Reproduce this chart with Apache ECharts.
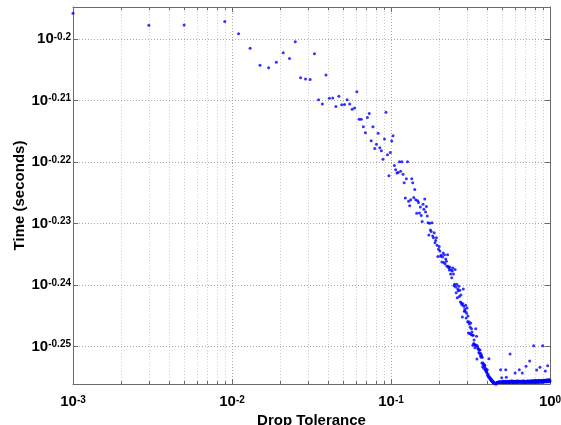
<!DOCTYPE html>
<html>
<head>
<meta charset="utf-8">
<script src="https://cdn.jsdelivr.net/npm/echarts@6/dist/echarts.min.js"></script>
<style>
  html, body { margin: 0; padding: 0; background: #ffffff; }
  #chart { width: 561px; height: 425px; }
</style>
</head>
<body>
<div id="chart"></div>
<script>
// Drop-tolerance sweep: tolerances start at 0.001 and advance in steps of 0.002
const tolStart = 0.001;
const tolStep = 0.002;

// Measured factorisation time (seconds) for each tolerance of the sweep (null = no sample)
const timeSeconds = [
  0.6371, 0.6342, 0.6343, null,   0.6351, 0.6322, 0.6288, 0.6248, 0.6242, 0.6255,
  0.6277, 0.6264, 0.6303, 0.6219, 0.6216, 0.6215, 0.6275, 0.6168, 0.6158, 0.6225,
  0.6171, 0.6172, 0.6152, 0.6176, 0.6156, 0.6157, 0.6168, 0.6158, 0.6146, 0.6149,
  0.6186, 0.6123, 0.6123, 0.6106, 0.6092, 0.6127, 0.6136, 0.6074, 0.6106, 0.6056,
  0.6066, 0.6091, 0.6058, 0.6051, 0.6032, 0.6078, 0.6139, 0.6042, 0.5995, 0.6047,
  0.6073, 0.6085, 0.6018, 0.6008, 0.6001, 0.6002, 0.6026, 0.6005, 0.6026, 0.5998,
  0.5979, 0.5945, 0.5988, 0.6026, 0.5938, 0.5928, 0.5941, 0.5988, 0.5979, 0.5946,
  0.5964, 0.5941, 0.5911, 0.5939, 0.5935, 0.5912, 0.5925, 0.5906, 0.5893, 0.5931,
  0.5920, 0.5943, 0.5914, 0.5926, 0.5905, 0.5890, 0.5863, 0.5889, 0.5874, 0.5871,
  0.5890, 0.5861, 0.5857, 0.5868, 0.5846, 0.5851, 0.5857, 0.5841, 0.5816, 0.5832,
  0.5838, 0.5828, 0.5817, 0.5819, 0.5804, 0.5815, 0.5824, 0.5803, 0.5820, 0.5800,
  0.5811, 0.5806, 0.5795, 0.5820, 0.5795, 0.5791, 0.5787, 0.5793, 0.5778, 0.5787,
  0.5770, 0.5785, 0.5791, 0.5778, 0.5753, 0.5756, 0.5788, 0.5750, 0.5738, 0.5756,
  0.5727, 0.5746, 0.5742, 0.5752, 0.5730, 0.5743, 0.5718, 0.5733, 0.5716, 0.5712,
  0.5686, 0.5714, 0.5746, 0.5709, 0.5698, 0.5703, 0.5698, 0.5711, 0.5684, 0.5694,
  0.5705, 0.5676, 0.5688, 0.5652, 0.5676, 0.5671, 0.5651, 0.5664, 0.5673, 0.5649,
  0.5661, 0.5654, 0.5647, 0.5626, 0.5647, 0.5630, 0.5637, 0.5628, 0.5621, 0.5626,
  0.5661, 0.5626, 0.5645, 0.5597, 0.5625, 0.5621, 0.5618, 0.5618, 0.5611, 0.5616,
  0.5609, 0.5616, 0.5604, 0.5609, 0.5601, 0.5605, 0.5589, 0.5601, 0.5581, 0.5589,
  0.5586, 0.5578, 0.5586, 0.5582, 0.5584, 0.5574, 0.5578, 0.5574, 0.5572, 0.5570,
  0.5568, 0.5575, 0.5563, 0.5566, 0.5563, 0.5559, 0.5598, 0.5560, 0.5557, 0.5558,
  0.5556, 0.5554, 0.5556, 0.5553, 0.5554, 0.5551, 0.5552, 0.5550, 0.5549, 0.5551,
  0.5548, 0.5547, 0.5548, 0.5546, 0.5547, 0.5546, 0.5546, 0.5545, 0.5546, 0.5545,
  0.5547, 0.5548, 0.5548, 0.5549, 0.5548, 0.5549, 0.5548, 0.5549, 0.5550, 0.5549,
  0.5548, 0.5549, 0.5550, 0.5549, 0.5575, 0.5549, 0.5550, 0.5549, 0.5558, 0.5550,
  0.5549, 0.5550, 0.5548, 0.5550, 0.5549, 0.5551, 0.5549, 0.5550, 0.5549, 0.5548,
  0.5550, 0.5549, 0.5551, 0.5575, 0.5549, 0.5559, 0.5550, 0.5549, 0.5550, 0.5548,
  0.5550, 0.5549, 0.5551, 0.5550, 0.5549, 0.5550, 0.5548, 0.5550, 0.5551, 0.5549,
  0.5608, 0.5550, 0.5549, 0.5551, 0.5550, 0.5549, 0.5550, 0.5552, 0.5549, 0.5550,
  0.5549, 0.5551, 0.5550, 0.5548, 0.5550, 0.5549, 0.5551, 0.5550, 0.5549, 0.5550,
  0.5551, 0.5568, 0.5549, 0.5550, 0.5551, 0.5549, 0.5550, 0.5549, 0.5551, 0.5550,
  0.5549, 0.5550, 0.5552, 0.5550, 0.5549, 0.5551, 0.5550, 0.5549, 0.5550, 0.5551,
  0.5575, 0.5550, 0.5549, 0.5551, 0.5550, 0.5549, 0.5550, 0.5551, 0.5549, 0.5550,
  0.5551, 0.5550, 0.5549, 0.5550, 0.5568, 0.5550, 0.5551, 0.5549, 0.5550, 0.5552,
  0.5550, 0.5549, 0.5551, 0.5550, 0.5549, 0.5550, 0.5551, 0.5550, 0.5549, 0.5551,
  0.5550, 0.5549, 0.5550, 0.5582, 0.5550, 0.5551, 0.5549, 0.5550, 0.5551, 0.5550,
  0.5549, 0.5551, 0.5550, 0.5552, 0.5550, 0.5549, 0.5550, 0.5551, 0.5550, 0.5549,
  0.5551, 0.5550, 0.5593, 0.5550, 0.5551, 0.5549, 0.5550, 0.5552, 0.5550, 0.5549,
  0.5551, 0.5550, 0.5549, 0.5551, 0.5550, 0.5552, 0.5550, 0.5549, 0.5551, 0.5550,
  0.5549, 0.5551, 0.5550, 0.5552, 0.5625, 0.5550, 0.5549, 0.5551, 0.5550, 0.5552,
  0.5550, 0.5549, 0.5551, 0.5550, 0.5553, 0.5550, 0.5549, 0.5551, 0.5550, 0.5552,
  0.5550, 0.5551, 0.5574, 0.5550, 0.5549, 0.5551, 0.5552, 0.5550, 0.5551, 0.5549,
  0.5550, 0.5552, 0.5551, 0.5550, 0.5549, 0.5551, 0.5553, 0.5550, 0.5551, 0.5550,
  0.5552, 0.5550, 0.5580, 0.5551, 0.5550, 0.5552, 0.5550, 0.5549, 0.5551, 0.5550,
  0.5552, 0.5551, 0.5550, 0.5553, 0.5550, 0.5551, 0.5549, 0.5552, 0.5550, 0.5625,
  0.5551, 0.5550, 0.5552, 0.5551, 0.5550, 0.5553, 0.5551, 0.5550, 0.5552, 0.5551,
  0.5550, 0.5552, 0.5551, 0.5553, 0.5550, 0.5551, 0.5552, 0.5572, 0.5551, 0.5550,
  0.5552, 0.5551, 0.5553, 0.5550, 0.5551, 0.5552, 0.5551, 0.5554, 0.5550, 0.5552,
  0.5551, 0.5553, 0.5552, 0.5583, 0.5551, 0.5552, 0.5550, 0.5553, 0.5551, 0.5552,
  0.5554, 0.5551, 0.5552, 0.5550, 0.5553, 0.5551, 0.5552, 0.5554, 0.5551, 0.5552
];

// Axis limits: tolerance range, and log10 of the time range
const xLimits = [0.001, 1];
const yLogLimits = [-0.25609, -0.19479];

// Labelled exponents on the time axis
const yTickExponents = [-0.25, -0.24, -0.23, -0.22, -0.21, -0.2];

// Minor grid positions on the logarithmic tolerance axis
const xMinorTicks = [
  0.002, 0.003, 0.004, 0.005, 0.006, 0.007, 0.008, 0.009,
  0.02, 0.03, 0.04, 0.05, 0.06, 0.07, 0.08, 0.09,
  0.2, 0.3, 0.4, 0.5, 0.6, 0.7, 0.8, 0.9
];

const FONT = '"Liberation Sans", Arial, Helvetica, sans-serif';
const AXIS_COLOR = '#6a6a6a';
const GRID_COLOR = '#a8a8a8';
const MINOR_GRID_COLOR = '#cdcdcd';

const points = [];
timeSeconds.forEach(function (t, i) {
  if (t !== null) points.push([tolStart + tolStep * i, Math.log10(t)]);
});

const supRich = {
  b: { fontFamily: FONT, fontSize: 15, fontWeight: 'bold', color: '#000', lineHeight: 16, padding: [6, 0, 6, 0] },
  s: { fontFamily: FONT, fontSize: 10, fontWeight: 'bold', color: '#000', lineHeight: 10, verticalAlign: 'top', padding: [1, 0, 0, 0] }
};

function xLabel(v) {
  const e = Math.round(Math.log10(v));
  return '{b|10}{s|' + e + '}';
}
function yLabel(v) {
  const hit = yTickExponents.some(function (e) { return Math.abs(e - v) < 1e-6; });
  if (!hit) return '';
  return '{b|10}{s|' + (+v.toFixed(2)) + '}';
}

const chart = echarts.init(document.getElementById('chart'), null, { renderer: 'canvas' });

chart.setOption({
  animation: false,
  backgroundColor: '#ffffff',
  grid: { left: 73, right: 11, top: 7, bottom: 41, containLabel: false, outerBoundsMode: 'none' },
  xAxis: [
    {
      type: 'log', logBase: 10, min: xLimits[0], max: xLimits[1], position: 'bottom',
      name: 'Drop Tolerance', nameLocation: 'middle', nameGap: 29, nameMoveOverlap: false,
      nameTextStyle: { fontFamily: FONT, fontSize: 15, fontWeight: 'bold', color: '#000' },
      axisLine: { show: true, lineStyle: { color: AXIS_COLOR, width: 1 } },
      axisTick: { show: true, inside: true, length: 5, lineStyle: { color: AXIS_COLOR } },
      axisLabel: { formatter: xLabel, rich: supRich, margin: 10, showMinLabel: true, showMaxLabel: true },
      splitLine: { show: true, lineStyle: { color: GRID_COLOR, type: [1, 2], width: 1 } },
      minorTick: { show: false }
    },
    {
      type: 'log', logBase: 10, min: xLimits[0], max: xLimits[1], position: 'top',
      axisLine: { show: true, lineStyle: { color: AXIS_COLOR, width: 1 } },
      axisTick: { show: true, inside: true, length: 5, lineStyle: { color: AXIS_COLOR } },
      axisLabel: { show: false },
      splitLine: { show: false }
    }
  ],
  yAxis: [
    {
      type: 'value', min: yLogLimits[0], max: yLogLimits[1], position: 'left',
      name: 'Time (seconds)', nameLocation: 'middle', nameGap: 46, nameRotate: 90, nameMoveOverlap: false,
      nameTextStyle: { fontFamily: FONT, fontSize: 15, fontWeight: 'bold', color: '#000' },
      axisLine: { show: true, lineStyle: { color: AXIS_COLOR, width: 1 } },
      axisTick: { show: true, inside: true, length: 5, lineStyle: { color: AXIS_COLOR } },
      axisLabel: { formatter: yLabel, rich: supRich, margin: 2, showMinLabel: false, showMaxLabel: false },
      splitLine: { show: true, lineStyle: { color: GRID_COLOR, type: [1, 2], width: 1 } }
    },
    {
      type: 'value', min: yLogLimits[0], max: yLogLimits[1], position: 'right',
      axisLine: { show: true, lineStyle: { color: AXIS_COLOR, width: 1 } },
      axisTick: { show: true, inside: true, length: 5, lineStyle: { color: AXIS_COLOR } },
      axisLabel: { show: false },
      splitLine: { show: false }
    }
  ],
  series: [
    {
      // minor log-grid lines with short ticks on the bottom and top edges
      type: 'custom',
      silent: true,
      z: 1,
      data: xMinorTicks.map(function (v) { return [v, yLogLimits[0]]; }),
      renderItem: function (params, api) {
        const v = api.value(0);
        const lo = api.coord([v, yLogLimits[0]]);
        const hi = api.coord([v, yLogLimits[1]]);
        const x = Math.round(lo[0]) + 0.5;
        return {
          type: 'group',
          children: [
            { type: 'line', shape: { x1: x, y1: lo[1], x2: x, y2: hi[1] },
              style: { stroke: MINOR_GRID_COLOR, lineWidth: 1, lineDash: [1, 2] } },
            { type: 'line', shape: { x1: x, y1: lo[1], x2: x, y2: lo[1] - 3 },
              style: { stroke: AXIS_COLOR, lineWidth: 1 } },
            { type: 'line', shape: { x1: x, y1: hi[1], x2: x, y2: hi[1] + 3 },
              style: { stroke: AXIS_COLOR, lineWidth: 1 } }
          ]
        };
      }
    },
    {
      type: 'scatter',
      data: points,
      symbol: 'circle',
      symbolSize: 3,
      clip: false,
      z: 5,
      itemStyle: { color: '#0000ff' }
    }
  ]
});
</script>
</body>
</html>
